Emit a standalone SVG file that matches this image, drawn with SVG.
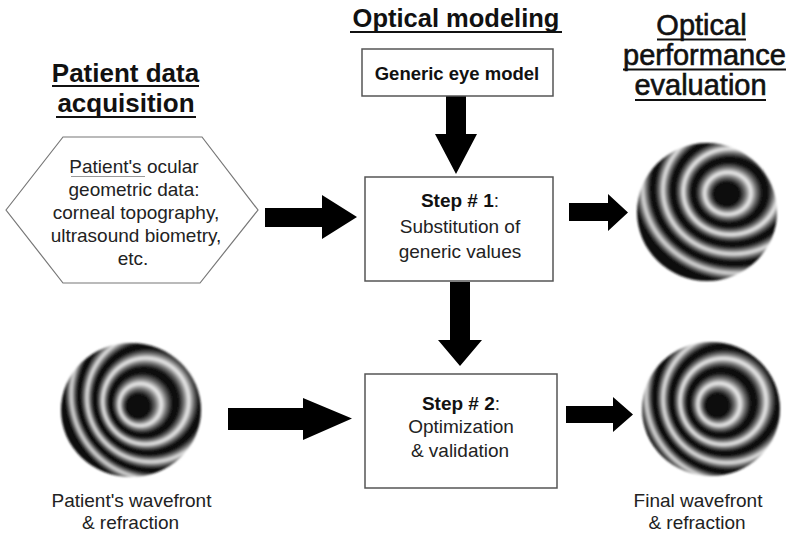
<svg xmlns="http://www.w3.org/2000/svg" width="786" height="534" viewBox="0 0 786 534">
  <style>
    .h-bold { font-family: "Liberation Sans", Arial, sans-serif; font-weight: bold; fill: #111; }
    .h-reg { font-family: "Liberation Sans", Arial, sans-serif; fill: #111; font-size: 29px; stroke: #111; stroke-width: 0.6; }
    .t { font-family: "Liberation Sans", Arial, sans-serif; font-size: 19px; fill: #222; text-anchor: middle; }
    .b { font-weight: bold; fill: #111; }
    .ul { stroke: #111; stroke-width: 2; }
    .box { fill: #fff; stroke: #555; stroke-width: 1.5; }
    .hex { fill: #fff; stroke: #777; stroke-width: 1.2; }
    .arrow { fill: #000; }
  </style>
  <defs>
    <!-- interference fringe pattern: dark centre with narrow bright rings;
         the focal point sits on the dark spot so outer rings drift off-centre -->
    <radialGradient id="fringe" gradientUnits="userSpaceOnUse" cx="0" cy="0" r="100">
      <stop offset="0" stop-color="#070707"/>
      <stop offset="0.12" stop-color="#111"/>
      <stop offset="0.165" stop-color="#707070"/>
      <stop offset="0.21" stop-color="#eee"/>
      <stop offset="0.255" stop-color="#707070"/>
      <stop offset="0.30" stop-color="#111"/>
      <stop offset="0.35" stop-color="#111"/>
      <stop offset="0.39" stop-color="#707070"/>
      <stop offset="0.43" stop-color="#eee"/>
      <stop offset="0.47" stop-color="#707070"/>
      <stop offset="0.51" stop-color="#111"/>
      <stop offset="0.56" stop-color="#111"/>
      <stop offset="0.60" stop-color="#707070"/>
      <stop offset="0.64" stop-color="#e6e6e6"/>
      <stop offset="0.68" stop-color="#707070"/>
      <stop offset="0.72" stop-color="#111"/>
      <stop offset="0.77" stop-color="#111"/>
      <stop offset="0.81" stop-color="#707070"/>
      <stop offset="0.85" stop-color="#dcdcdc"/>
      <stop offset="0.89" stop-color="#707070"/>
      <stop offset="0.93" stop-color="#111"/>
      <stop offset="1" stop-color="#111"/>
    </radialGradient>
    <radialGradient id="fringeTR" href="#fringe" gradientUnits="userSpaceOnUse" fx="0" fy="0" cx="12" cy="-8" r="100" gradientTransform="translate(725 195) scale(1.1 1)"/>
    <radialGradient id="fringeBL" href="#fringe" gradientUnits="userSpaceOnUse" fx="135" fy="408" cx="160" cy="392" r="100"/>
    <radialGradient id="fringeBR" href="#fringe" gradientUnits="userSpaceOnUse" fx="715" fy="407" cx="734" cy="394" r="100"/>
    <filter id="soft" x="-10%" y="-10%" width="120%" height="120%">
      <feGaussianBlur stdDeviation="0.9"/>
    </filter>
  </defs>

  <rect width="786" height="534" fill="#fff"/>

  <!-- column headings -->
  <g id="heading-acquisition">
    <text class="h-bold" font-size="26" x="125.5" y="81.5" text-anchor="middle">Patient data</text>
    <line class="ul" x1="52" y1="86" x2="199" y2="86"/>
    <text class="h-bold" font-size="26" x="126" y="112" text-anchor="middle">acquisition</text>
    <line class="ul" x1="56" y1="117" x2="196" y2="117"/>
  </g>
  <g id="heading-modeling">
    <text class="h-bold" font-size="25.5" x="456" y="27" text-anchor="middle">Optical modeling</text>
    <line class="ul" x1="350" y1="32" x2="562" y2="32"/>
  </g>
  <g id="heading-evaluation">
    <text class="h-reg" x="701.5" y="35" text-anchor="middle">Optical</text>
    <line class="ul" x1="657" y1="39.5" x2="746" y2="39.5"/>
    <text class="h-reg" x="623" y="65">performance</text>
    <line class="ul" x1="623" y1="69.5" x2="786" y2="69.5"/>
    <text class="h-reg" x="700.5" y="95" text-anchor="middle">evaluation</text>
    <line class="ul" x1="635" y1="100" x2="766" y2="100"/>
  </g>

  <!-- connectors -->
  <g id="connectors">
    <polygon class="arrow" points="446,96 466,96 466,134 477,134 456,174 435,134 446,134"/>
    <polygon class="arrow" points="450,282 470,282 470,340 482,340 460,366 438,340 450,340"/>
    <polygon class="arrow" points="265,208 322,208 322,195 357,217 322,239 322,227 265,227"/>
    <polygon class="arrow" points="569,203 608,203 608,194 628,212.5 608,231 608,221 569,221"/>
    <polygon class="arrow" points="228,408 303,408 303,398 352,418.5 303,440 303,430 228,430"/>
    <polygon class="arrow" points="566,406 613,406 613,397 633,414.5 613,432 613,423 566,423"/>
  </g>

  <!-- nodes -->
  <g id="patient-data">
    <polygon class="hex" points="6,210 63,137 202,137 258,210 200,283 63,283"/>
    <text class="t" x="134" y="173">Patient's ocular</text>
    <line x1="71" y1="176.5" x2="145" y2="176.5" stroke="#999" stroke-width="1"/>
    <text class="t" x="134" y="196">geometric data:</text>
    <text class="t" x="136" y="219">corneal topography,</text>
    <text class="t" x="136" y="242">ultrasound biometry,</text>
    <text class="t" x="133" y="265">etc.</text>
  </g>

  <g id="generic-eye-model">
    <rect class="box" x="362" y="49" width="191" height="47"/>
    <text class="t b" x="457" y="80" style="font-size:18.5px">Generic eye model</text>
  </g>

  <g id="step-1">
    <rect class="box" x="365" y="177" width="188" height="104"/>
    <text class="t" x="460" y="207"><tspan class="b">Step # 1</tspan>:</text>
    <text class="t" x="460" y="233">Substitution of</text>
    <text class="t" x="460" y="258">generic values</text>
  </g>

  <g id="step-2">
    <rect class="box" x="365" y="374" width="192" height="114"/>
    <text class="t" x="461" y="410"><tspan class="b">Step # 2</tspan>:</text>
    <text class="t" x="461" y="433">Optimization</text>
    <text class="t" x="460" y="457">&amp; validation</text>
  </g>

  <g id="wavefront-step-1">
    <ellipse cx="707" cy="212" rx="70" ry="69" fill="url(#fringeTR)" filter="url(#soft)"/>
  </g>

  <g id="patient-wavefront">
    <ellipse cx="131" cy="410" rx="70" ry="67" fill="url(#fringeBL)" filter="url(#soft)"/>
    <text class="t" x="131.5" y="507">Patient's wavefront</text>
    <text class="t" x="130.5" y="529">&amp; refraction</text>
  </g>

  <g id="final-wavefront">
    <ellipse cx="711" cy="409" rx="69" ry="67" fill="url(#fringeBR)" filter="url(#soft)"/>
    <text class="t" x="698" y="507">Final wavefront</text>
    <text class="t" x="697" y="529">&amp; refraction</text>
  </g>
</svg>
